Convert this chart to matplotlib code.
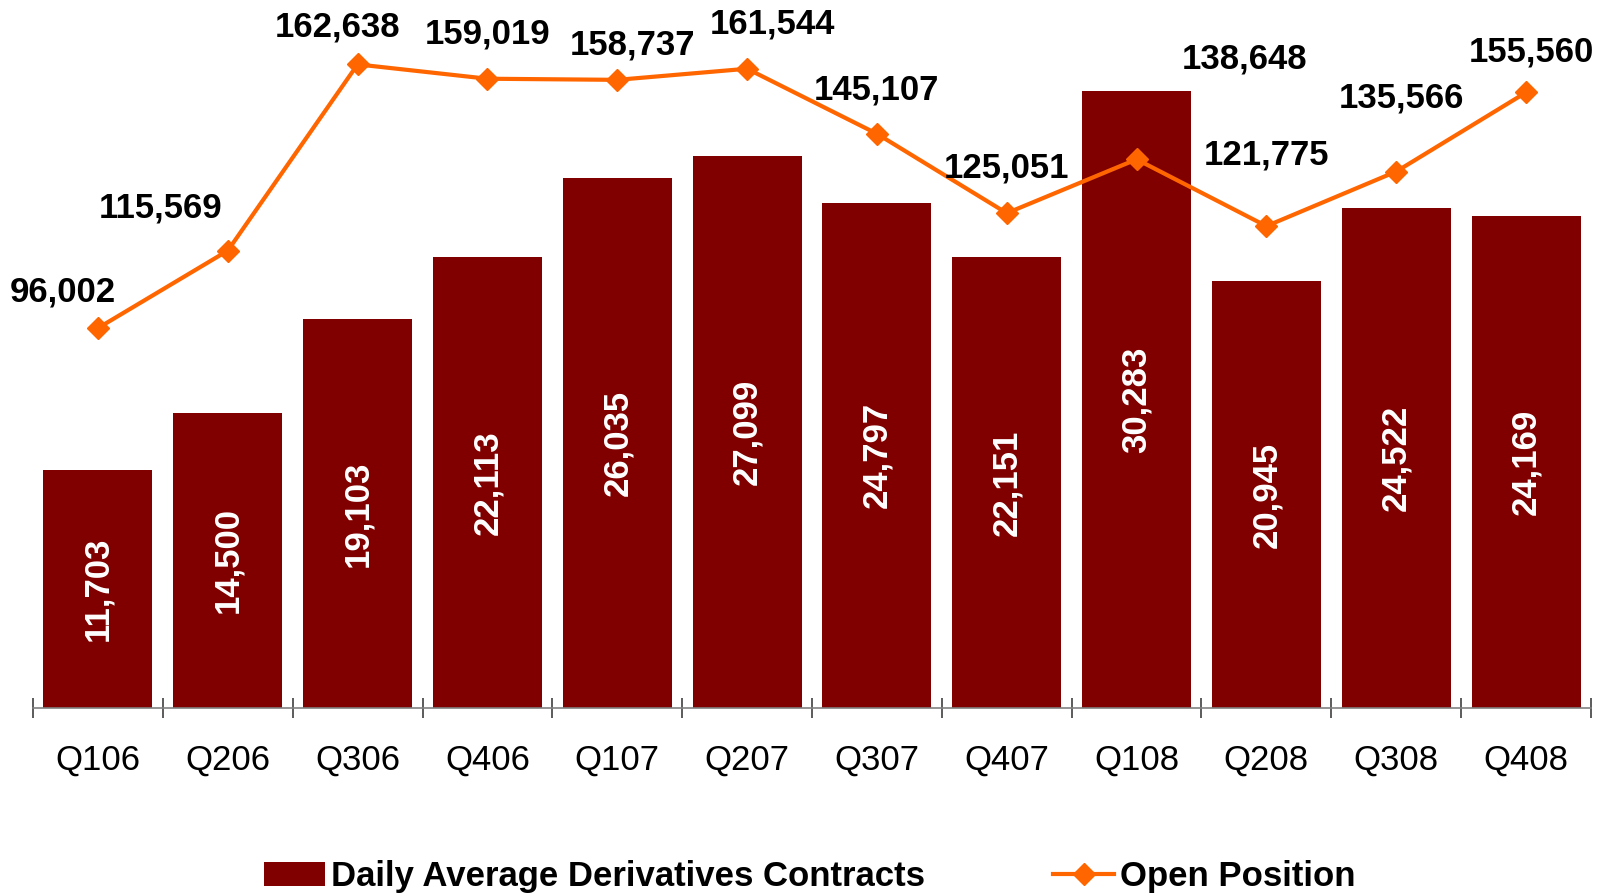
import matplotlib
matplotlib.use("Agg")
import matplotlib.pyplot as plt
import numpy as np

plt.rcParams["font.family"] = ["Liberation Sans", "DejaVu Sans"]

quarters = ["Q106", "Q206", "Q306", "Q406", "Q107", "Q207",
            "Q307", "Q407", "Q108", "Q208", "Q308", "Q408"]
daily_contracts = [11703, 14500, 19103, 22113, 26035, 27099,
                   24797, 22151, 30283, 20945, 24522, 24169]
open_position = [96002, 115569, 162638, 159019, 158737, 161544,
                 145107, 125051, 138648, 121775, 135566, 155560]

# label offsets (pixels) for the open-position annotations
label_offsets = {
    0: (-35, 36), 1: (-67, 43), 2: (-20, 37), 3: (0, 45),
    4: (15, 35), 5: (25, 45), 6: (0, 44), 7: (0, 45),
    8: (108, 100), 9: (0, 71), 10: (5, 74), 11: (5, 40),
}

BAR_COLOR = "#800000"
LINE_COLOR = "#FF6600"

fig = plt.figure(figsize=(16.03, 8.93), dpi=100)
ax = fig.add_axes([0.0206, 0.2072, 0.9719, 0.7704])
ax2 = ax.twinx()

x = np.arange(len(quarters))
ax.bar(x, daily_contracts, width=0.84, color=BAR_COLOR, zorder=2,
       label="Daily Average Derivatives Contracts")
ax.set_ylim(0, 33768)
ax.set_xlim(-0.5, len(quarters) - 0.5)

for xi, v in zip(x, daily_contracts):
    ax.text(xi, v / 2, f"{v:,}", rotation=90, ha="center", va="center",
            color="white", fontsize=25, fontweight="bold")

ax2.plot(x, open_position, color=LINE_COLOR, lw=3, marker="D", ms=11.5,
         label="Open Position", zorder=3)
ax2.set_ylim(0, 173860)

for i, (xi, v) in enumerate(zip(x, open_position)):
    dx, dy = label_offsets[i]
    ax2.annotate(f"{v:,}", (xi, v), xytext=(dx, dy), textcoords="offset pixels",
                 ha="center", va="center", fontsize=25, fontweight="bold",
                 color="black")

# axes styling
for a in (ax, ax2):
    for side in ("top", "left", "right"):
        a.spines[side].set_visible(False)
    a.set_yticks([])
ax2.spines["bottom"].set_visible(False)
ax.spines["bottom"].set_color("#808080")
ax.spines["bottom"].set_linewidth(1.2)

ax.set_xticks(x)
ax.set_xticklabels(quarters, fontsize=25)
ax.tick_params(axis="x", which="major", length=0, pad=26)
ax.set_xticks(np.arange(-0.5, len(quarters)), minor=True)
ax.tick_params(axis="x", which="minor", direction="inout", length=15,
               width=1.2, color="#404040")

h1, l1 = ax.get_legend_handles_labels()
h2, l2 = ax2.get_legend_handles_labels()
fig.legend(h1 + h2, l1 + l2, loc="center", bbox_to_anchor=(0.505, 0.018),
           ncol=2, frameon=False, handlelength=1.77, handletextpad=0.15,
           columnspacing=3.7, prop={"size": 25, "weight": "bold"})

fig.savefig("out.png", dpi=100)
